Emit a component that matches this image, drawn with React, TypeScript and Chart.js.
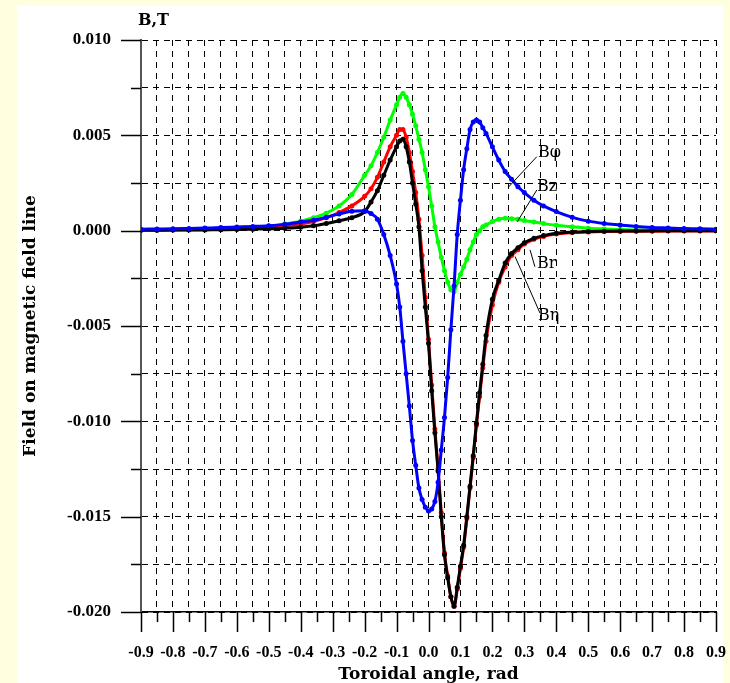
import React, { useEffect, useRef } from 'react';
import { Chart, registerables } from 'chart.js';

Chart.register(...registerables);

// Toroidal angle, rad
const angles = [
  -0.9, -0.85, -0.8, -0.75, -0.7, -0.65, -0.6, -0.55, -0.5, -0.45, -0.4,
  -0.36, -0.32, -0.28, -0.24, -0.2, -0.18, -0.16, -0.14, -0.12, -0.1,
  -0.09, -0.08, -0.07, -0.06, -0.05, -0.04, -0.03, -0.02, -0.01, 0,
  0.01, 0.02, 0.03, 0.04, 0.05, 0.06, 0.07, 0.08, 0.09, 0.1,
  0.11, 0.12, 0.13, 0.14, 0.15, 0.16, 0.17, 0.18, 0.2, 0.22,
  0.24, 0.26, 0.28, 0.3, 0.33, 0.36, 0.4, 0.45, 0.5, 0.55,
  0.6, 0.65, 0.7, 0.75, 0.8, 0.85, 0.9,
];

// B phi (blue)
const bPhi = [
  0.00008, 0.00009, 0.0001, 0.00012, 0.00014, 0.00016, 0.00019, 0.00022, 0.00026, 0.00033, 0.00045,
  0.00055, 0.0007, 0.00088, 0.00102, 0.00105, 0.0009, 0.0006, -0.0002, -0.0013, -0.0028,
  -0.004, -0.0058, -0.0075, -0.0092, -0.011, -0.0123, -0.0135, -0.0141, -0.0145, -0.0147,
  -0.0146, -0.0142, -0.0132, -0.0115, -0.0098, -0.0077, -0.0052, -0.0029, -0.0002, 0.0016,
  0.0032, 0.0043, 0.0053, 0.0057, 0.0058, 0.0057, 0.0054, 0.0051, 0.0044, 0.0037,
  0.0031, 0.0027, 0.0023, 0.002, 0.0016, 0.0013, 0.001, 0.0007, 0.0005, 0.00038,
  0.0003, 0.00022, 0.00017, 0.00014, 0.00011, 0.0001, 0.00008,
];

// B z (green)
const bZ = [
  0.00003, 0.00004, 0.00005, 0.00006, 0.00008, 0.0001, 0.00013, 0.00017, 0.00024, 0.00035, 0.0005,
  0.00068, 0.00092, 0.0013, 0.0019, 0.0029, 0.0034, 0.0041, 0.0049, 0.0058, 0.0066,
  0.007, 0.0072, 0.007, 0.0066, 0.0061, 0.0055, 0.0048, 0.0041, 0.0032, 0.0023,
  0.0013, 0.0002, -0.0006, -0.0014, -0.0021, -0.0027, -0.0031, -0.0032, -0.0027, -0.0023,
  -0.0019, -0.0015, -0.001, -0.0006, -0.0002, 0.0, 0.0002, 0.0003, 0.00048, 0.0006,
  0.00065, 0.00063, 0.0006, 0.00053, 0.00045, 0.00037, 0.00028, 0.0002, 0.00013, 0.00009,
  0.00006, 0.00004, 0.00003, 0.00003, 0.00002, 0.00002, 0.00002,
];

// B r (red)
const bR = [
  0.00003, 0.00003, 0.00004, 0.00005, 0.00006, 0.00008, 0.0001, 0.00013, 0.00018, 0.00025, 0.00035,
  0.00048, 0.00068, 0.00095, 0.0013, 0.0018, 0.0022, 0.0028, 0.0036, 0.0044, 0.005,
  0.0053, 0.0053, 0.0049, 0.0041, 0.0031, 0.002, 0.0006, -0.0013, -0.0035, -0.0057,
  -0.0081, -0.0104, -0.0125, -0.0148, -0.0169, -0.0181, -0.0192, -0.0197, -0.0188, -0.0177,
  -0.0166, -0.0151, -0.0135, -0.0119, -0.0102, -0.0087, -0.0072, -0.0058, -0.0039, -0.0027,
  -0.0019, -0.0013, -0.001, -0.0007, -0.00045, -0.0003, -0.00018, -0.0001, -0.00007, -0.00005,
  -0.00004, -0.00003, -0.00003, -0.00002, -0.00002, -0.00002, -0.00002,
];

// B eta (black)
const bEta = [
  0.00002, 0.00002, 0.00003, 0.00003, 0.00004, 0.00005, 0.00006, 0.00008, 0.0001, 0.00013, 0.00018,
  0.00026, 0.00038, 0.00052, 0.00068, 0.001, 0.0015, 0.0021, 0.0029, 0.0037, 0.0044,
  0.0047, 0.0048, 0.0044, 0.0036, 0.0025, 0.0014, 0.0002, -0.0021, -0.004, -0.0059,
  -0.0084, -0.0106, -0.0126, -0.015, -0.017, -0.0182, -0.0192, -0.0197, -0.0187, -0.0176,
  -0.0165, -0.015, -0.0134, -0.0118, -0.0101, -0.0085, -0.007, -0.0055, -0.0036, -0.0026,
  -0.0017, -0.0012, -0.0009, -0.00063, -0.0004, -0.00026, -0.00014, -0.00008, -0.00005, -0.00003,
  -0.00002, -0.00002, -0.00001, -0.00001, -0.00001, -0.00001, -0.00001,
];

const seriesNames = ['Bφ', 'Bη', 'Br', 'Bz'];
const seriesValues = [bPhi, bEta, bR, bZ];
const seriesColors = ['#0000FF', '#000000', '#FF0000', '#00FF00'];

const xRange = [-0.9, 0.9];
const yRange = [-0.02, 0.01];
const xStep = 0.05;
const yStep = 0.0025;

const titleText = 'B,T';
const xTitle = 'Toroidal angle, rad';
const yTitle = 'Field on magnetic field line';

// curve labels with leader lines (data coordinates)
const curveLabels = [
  { text: 'Bφ', from: [0.25, 0.00228], to: [0.339, 0.00388], at: [0.343, 0.00385] },
  { text: 'Bz', from: [0.278, 0.00047], to: [0.339, 0.00213], at: [0.34, 0.00208] },
  { text: 'Br', from: [0.318, -0.00101], to: [0.333, -0.00189], at: [0.34, -0.00196] },
  { text: 'Bη', from: [0.271, -0.00136], to: [0.349, -0.00432], at: [0.343, -0.00468] },
];

const SERIF = "'Liberation Serif', 'Times New Roman', serif";
const TITLE_FONT = "'DejaVu Serif', serif";

const decorPlugin = {
  id: 'decor',
  afterDraw(chart: any) {
    const { ctx, chartArea } = chart;
    const xs = chart.scales.x;
    const ys = chart.scales.y;
    ctx.save();
    ctx.strokeStyle = '#000';
    ctx.lineWidth = 1.5;
    // x tick marks
    xs.ticks.forEach((t: any) => {
      const k = Math.round(t.value / xStep);
      const len = k % 2 === 0 ? 20 : 10;
      const px = Math.round(xs.getPixelForValue(t.value)) + 0.5;
      ctx.beginPath();
      ctx.moveTo(px, chartArea.bottom);
      ctx.lineTo(px, chartArea.bottom + len);
      ctx.stroke();
    });
    // y tick marks
    ys.ticks.forEach((t: any) => {
      const k = Math.round(t.value / yStep);
      const len = k % 2 === 0 ? 20 : 10;
      const py = Math.round(ys.getPixelForValue(t.value)) + 0.5;
      ctx.beginPath();
      ctx.moveTo(chartArea.left, py);
      ctx.lineTo(chartArea.left - len, py);
      ctx.stroke();
    });
    // unit label
    ctx.fillStyle = '#000';
    ctx.font = `bold 16px ${TITLE_FONT}`;
    ctx.textAlign = 'left';
    ctx.textBaseline = 'alphabetic';
    ctx.fillText(titleText, chartArea.left - 3, 25);
    // curve labels
    ctx.lineWidth = 1;
    ctx.font = `16px ${TITLE_FONT}`;
    curveLabels.forEach((c) => {
      ctx.beginPath();
      ctx.moveTo(xs.getPixelForValue(c.from[0]), ys.getPixelForValue(c.from[1]));
      ctx.lineTo(xs.getPixelForValue(c.to[0]), ys.getPixelForValue(c.to[1]));
      ctx.stroke();
      ctx.fillText(c.text, xs.getPixelForValue(c.at[0]), ys.getPixelForValue(c.at[1]));
    });
    ctx.restore();
  },
};

export default function App() {
  const canvasRef = useRef<HTMLCanvasElement | null>(null);

  useEffect(() => {
    const canvas = canvasRef.current;
    if (!canvas) return;
    const datasets = seriesNames.map((name, si) => ({
      label: name,
      data: angles.map((x, i) => ({ x, y: seriesValues[si][i] })),
      borderColor: seriesColors[si],
      backgroundColor: seriesColors[si],
      pointBackgroundColor: seriesColors[si],
      pointBorderWidth: 0,
      pointRadius: 2.5,
      borderWidth: 3,
      cubicInterpolationMode: 'monotone' as const,
      fill: false,
    }));
    const chart = new Chart(canvas, {
      type: 'line',
      data: { datasets },
      options: {
        animation: false,
        responsive: false,
        devicePixelRatio: 1,
        layout: { padding: { left: 0, top: 40, right: 14, bottom: 0 } },
        plugins: { legend: { display: false }, tooltip: { enabled: false } },
        scales: {
          x: {
            type: 'linear',
            min: xRange[0],
            max: xRange[1],
            ticks: {
              stepSize: xStep,
              autoSkip: false,
              maxRotation: 0,
              padding: 31,
              color: '#000',
              font: { family: SERIF, size: 16, weight: 'bold' },
              callback: (v: any) => {
                const k = Math.round(Number(v) / xStep);
                return k % 2 === 0 ? (k * xStep).toFixed(1) : '';
              },
            },
            grid: { color: '#000', lineWidth: 1, drawTicks: false },
            border: { display: true, color: '#000', width: 1.5, dash: [6, 5] },
            title: {
              display: true,
              text: xTitle,
              color: '#000',
              font: { family: TITLE_FONT, size: 17, weight: 'bold', lineHeight: 1 },
              padding: { top: 0, bottom: 0 },
            },
            afterFit: (s: any) => { s.height = 71; s.paddingLeft = 0; s.paddingRight = 0; },
          },
          y: {
            type: 'linear',
            min: yRange[0],
            max: yRange[1],
            ticks: {
              stepSize: yStep,
              autoSkip: false,
              padding: 30,
              color: '#000',
              font: { family: SERIF, size: 17, weight: 'bold' },
              callback: (v: any) => {
                const k = Math.round(Number(v) / yStep);
                return k % 2 === 0 ? (k * yStep).toFixed(3) : '';
              },
            },
            grid: { color: '#000', lineWidth: 1, drawTicks: false },
            border: { display: true, color: '#555', width: 2, dash: [6, 5] },
            title: {
              display: true,
              text: yTitle,
              color: '#000',
              font: { family: TITLE_FONT, size: 17, weight: 'bold', lineHeight: 1.2 },
              padding: { top: 20, bottom: 0 },
            },
            afterFit: (s: any) => { s.width = 141; s.paddingTop = 0; s.paddingBottom = 0; },
          },
        },
      },
      plugins: [decorPlugin],
    });
    return () => chart.destroy();
  }, []);

  return (
    <div style={{ position: 'absolute', left: 0, top: 0, width: 730, height: 683, background: '#FFFFE0', overflow: 'hidden' }}>
      <div style={{ position: 'absolute', left: 17, top: 6, width: 706, height: 677, background: '#FFFFFF' }} />
      <canvas ref={canvasRef} width={730} height={683} style={{ position: 'absolute', left: 0, top: 0, width: 730, height: 683 }} />
    </div>
  );
}
